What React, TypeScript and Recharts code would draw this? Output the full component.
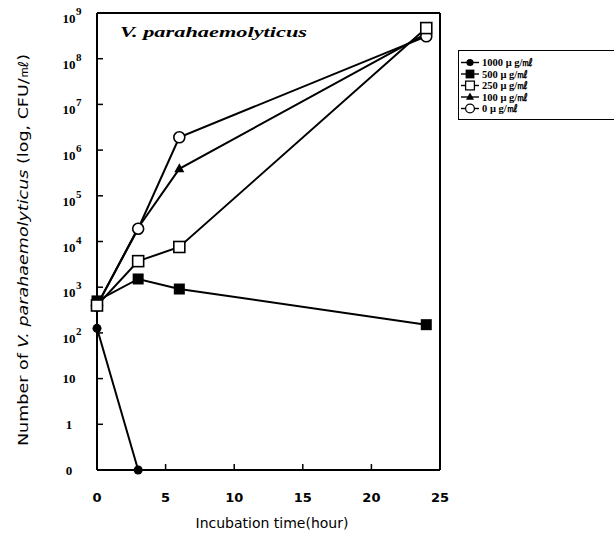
import React from 'react';
import { LineChart, Line, XAxis, YAxis, ReferenceLine, Legend, Customized } from 'recharts';

// log10 of CFU/ml; -1 stands for the "0" row at the bottom of the axis
const hours = [0, 3, 6, 24];
const conc1000 = [2.1, -1, null, null];
const conc500 = [2.7, 3.18, 2.96, 2.18];
const conc250 = [2.6, 3.57, 3.88, 8.67];
const conc100 = [2.6, 4.3, 5.59, 8.55];
const conc0 = [2.6, 4.28, 6.28, 8.49];

const xTicks = [0, 5, 10, 15, 20, 25];
const yTicks = [-1, 0, 1, 2, 3, 4, 5, 6, 7, 8, 9];
const legendNames = ['1000 μ g/㎖', '500 μ g/㎖', '250 μ g/㎖', '100 μ g/㎖', '0 μ g/㎖'];
const legendShapes = ['dot', 'fsquare', 'osquare', 'tri', 'circle'];

const data = hours.map((h, i) => ({
  hour: h,
  c1000: conc1000[i],
  c500: conc500[i],
  c250: conc250[i],
  c100: conc100[i],
  c0: conc0[i],
}));

const Marker = ({ kind, cx, cy }: { kind: string; cx: number; cy: number }) => {
  if (cx == null || cy == null || isNaN(cx) || isNaN(cy)) return null;
  switch (kind) {
    case 'dot':
      return <circle cx={cx} cy={cy} r={4.5} fill="#000" />;
    case 'fsquare':
      return <rect x={cx - 5.5} y={cy - 5.5} width={11} height={11} fill="#000" />;
    case 'osquare':
      return <rect x={cx - 5.5} y={cy - 5.5} width={11} height={11} fill="#fff" stroke="#000" strokeWidth={1.6} />;
    case 'tri':
      return <path d={`M${cx},${cy - 5.5} L${cx + 5},${cy + 3.5} L${cx - 5},${cy + 3.5} Z`} fill="#000" />;
    default:
      return <circle cx={cx} cy={cy} r={5.5} fill="#fff" stroke="#000" strokeWidth={1.6} />;
  }
};

const dotFor = (kind: string) => (p: any) => <Marker key={`${kind}-${p.index}`} kind={kind} cx={p.cx} cy={p.cy} />;

const YTick = (props: any) => {
  const { x, y, payload } = props;
  const v = payload.value;
  const font = { fontFamily: '"Liberation Serif", serif', fontWeight: 'bold' as const, fill: '#000' };
  if (v <= 1) {
    const label = v === -1 ? '0' : v === 0 ? '1' : '10';
    return (
      <text x={x} y={y + 4.5} textAnchor="middle" fontSize={13} {...font}>
        {label}
      </text>
    );
  }
  return (
    <g>
      <text x={x} y={y + 10} textAnchor="middle" fontSize={13} {...font}>10</text>
      <text x={x + 7} y={y + 2} textAnchor="start" fontSize={11} {...font}>{v}</text>
    </g>
  );
};

const renderLegend = () => (
  <div style={{ border: '1.5px solid #000', background: '#fff', width: 170, height: 70, boxSizing: 'border-box' }}>
    <svg width={168} height={68}>
      {legendNames.map((name, i) => {
        const cy = 11.5 + i * 11.5;
        return (
          <g key={name}>
            <line x1={2} x2={20} y1={cy} y2={cy} stroke="#000" strokeWidth={1.4} />
            <g transform={`translate(11,${cy}) scale(0.8) translate(-11,${-cy})`}>
              <Marker kind={legendShapes[i]} cx={11} cy={cy} />
            </g>
            <text x={23} y={cy + 3.5} fontSize={10.5} fontWeight="bold" fontFamily='"Liberation Serif", serif' fill="#000">
              {name}
            </text>
          </g>
        );
      })}
    </svg>
  </div>
);

const YTitle = () => (
  <text
    transform="translate(28,250) rotate(-90)"
    textAnchor="middle"
    fontSize={14}
    fontFamily='"DejaVu Sans", sans-serif'
    fill="#000"
    textLength={392}
    lengthAdjust="spacingAndGlyphs"
  >
    Number of <tspan fontStyle="italic">V. parahaemolyticus</tspan> (log, CFU/㎖)
  </text>
);

const PlotTitle = () => (
  <text
    x={120}
    y={37}
    fontSize={15}
    fontFamily='"Liberation Serif", serif'
    fontWeight="bold"
    fontStyle="italic"
    fill="#000"
    textLength={187}
    lengthAdjust="spacingAndGlyphs"
  >
    V. parahaemolyticus
  </text>
);

export default function App() {
  return (
    <div style={{ position: 'absolute', left: 0, top: 0, background: '#fff' }}>
      <LineChart width={614} height={540} data={data} margin={{ top: 13, right: 174, bottom: 40, left: 37 }}>
        <XAxis
          dataKey="hour"
          type="number"
          domain={[0, 25]}
          ticks={xTicks}
          tickSize={-6}
          tickMargin={29}
          axisLine={{ stroke: '#000', strokeWidth: 2 }}
          tickLine={{ stroke: '#000', strokeWidth: 1.5 }}
          tick={{ fill: '#000', fontSize: 13, fontWeight: 'bold', fontFamily: '"DejaVu Sans", sans-serif' }}
          height={30}
          label={{
            content: () => (
              <text x={272} y={528} textAnchor="middle" fontSize={14} fontFamily='"DejaVu Sans", sans-serif' fill="#000">
                Incubation time(hour)
              </text>
            ),
          }}
        />
        <YAxis
          type="number"
          domain={[-1, 9]}
          ticks={yTicks}
          width={60}
          tickSize={-6}
          tickMargin={34}
          interval={0}
          axisLine={{ stroke: '#000', strokeWidth: 2 }}
          tickLine={{ stroke: '#000', strokeWidth: 1.5 }}
          tick={<YTick />}
        />
        <ReferenceLine y={9} stroke="#000" strokeWidth={2} />
        <ReferenceLine x={25} stroke="#000" strokeWidth={2} />
        <Line dataKey="c1000" name="1000 μ g/㎖" stroke="#000" strokeWidth={2} dot={dotFor('dot')} isAnimationActive={false} />
        <Line dataKey="c500" name="500 μ g/㎖" stroke="#000" strokeWidth={2} dot={dotFor('fsquare')} isAnimationActive={false} />
        <Line dataKey="c100" name="100 μ g/㎖" stroke="#000" strokeWidth={2} dot={dotFor('tri')} isAnimationActive={false} />
        <Line dataKey="c0" name="0 μ g/㎖" stroke="#000" strokeWidth={2} dot={dotFor('circle')} isAnimationActive={false} />
        <Line dataKey="c250" name="250 μ g/㎖" stroke="#000" strokeWidth={2} dot={dotFor('osquare')} isAnimationActive={false} />
        <Legend
          layout="vertical"
          align="center"
          verticalAlign="middle"
          content={renderLegend}
          wrapperStyle={{ position: 'absolute', left: 458, top: 50, width: 170 }}
        />
        <Customized component={<YTitle />} />
        <Customized component={<PlotTitle />} />
      </LineChart>
    </div>
  );
}
